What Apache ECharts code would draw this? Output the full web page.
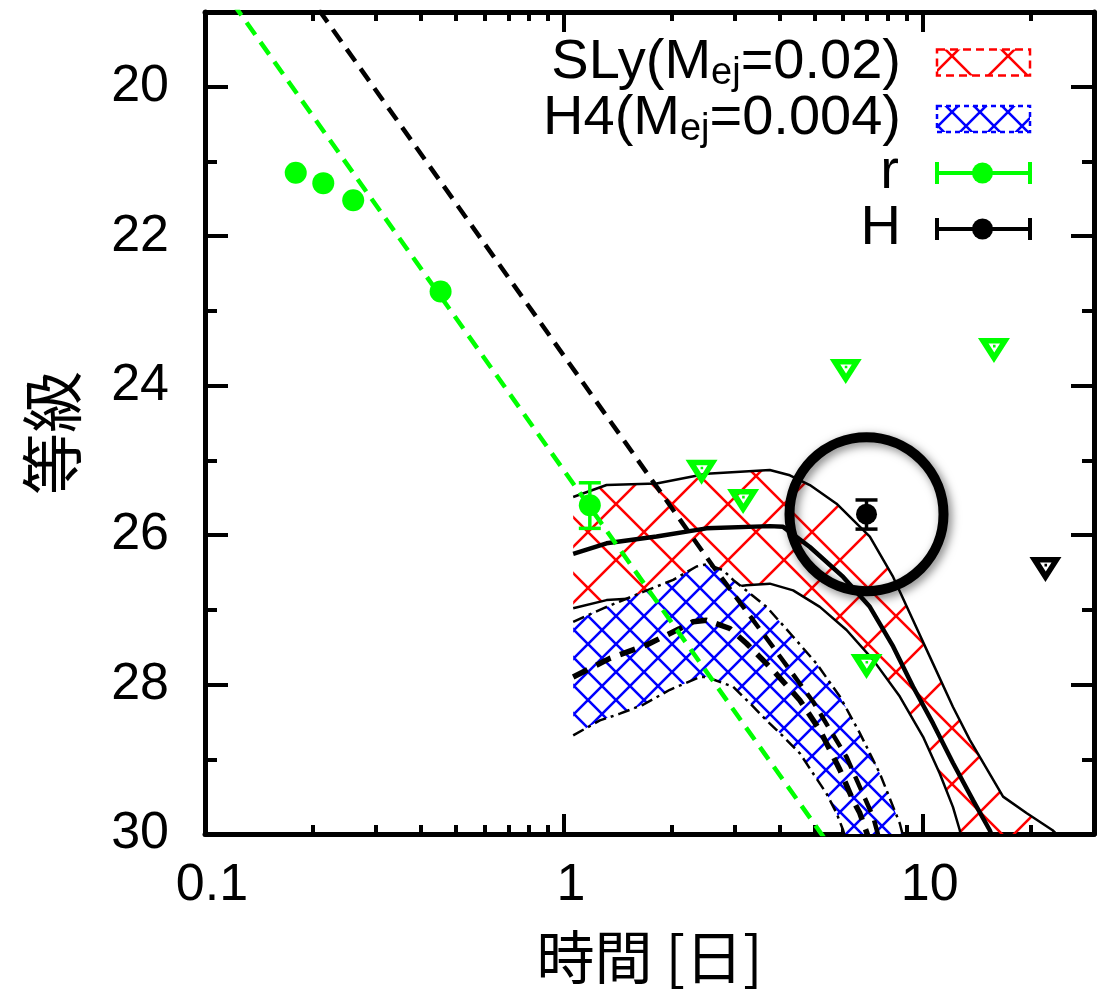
<!DOCTYPE html>
<html>
<head>
<meta charset="utf-8">
<script src="https://cdn.jsdelivr.net/npm/echarts@6/dist/echarts.min.js"></script>
<style>
  html, body { margin: 0; padding: 0; background: #fff; }
  #chart { width: 1116px; height: 998px; }
</style>
</head>
<body>
<div id="chart"></div>
<script>
// ---- light-curve data: [time (days), magnitude] ----
// SLy model band (Mej = 0.02): upper / central / lower curves
const slyUpper = [[1.0615,25.49],[1.315,25.33],[1.812,25.31],[2.497,25.18],[3.748,25.13],[4.262,25.20],[4.846,25.33],[5.751,25.58],[7.12,26.02],[8.268,26.56],[9.397,27.14],[10.68,27.72],[12.14,28.30],[13.52,28.74],[16.74,29.50],[19.45,29.72],[23.0,29.95],[26.0,30.2]];
const slyMid = [[1.0615,26.25],[1.315,26.11],[1.812,26.02],[2.497,25.91],[3.748,25.88],[4.082,25.89],[4.846,26.16],[6.0,26.56],[7.12,26.96],[8.268,27.49],[9.397,28.03],[10.68,28.52],[12.14,29.05],[13.81,29.55],[15.37,29.95],[16.0,30.15]];
const slyLower = [[1.0615,26.98],[1.315,26.87],[1.812,26.83],[2.497,26.74],[3.228,26.67],[3.748,26.65],[4.353,26.74],[5.166,26.96],[6.132,27.27],[7.272,27.67],[8.631,28.16],[10.02,28.70],[11.15,29.19],[12.14,29.64],[12.68,29.95],[13.0,30.2]];
// H4 model band (Mej = 0.004)
const h4Upper = [[1.0615,27.16],[1.287,26.98],[1.663,26.76],[2.016,26.60],[2.342,26.42],[2.497,26.39],[2.778,26.47],[2.962,26.60],[3.67,26.96],[4.353,27.36],[5.058,27.72],[5.874,28.16],[6.677,28.65],[7.592,29.19],[8.631,29.86],[9.0,30.2]];
const h4Mid = [[1.0615,27.90],[1.343,27.65],[1.70,27.47],[2.105,27.25],[2.292,27.16],[2.497,27.14],[2.90,27.25],[3.228,27.45],[3.829,27.81],[4.544,28.21],[5.166,28.61],[5.874,29.14],[6.393,29.55],[6.677,29.72],[7.12,30.1]];
const h4Lower = [[1.0615,28.68],[1.26,28.48],[1.432,28.39],[1.663,28.27],[1.974,28.07],[2.392,27.90],[2.497,27.90],[2.962,28.03],[3.297,28.25],[3.67,28.48],[3.997,28.65],[4.544,28.92],[4.949,29.19],[5.393,29.46],[5.751,29.72],[6.0,29.95],[6.2,30.2]];
// afterglow power-law decays
const afterglowR = [[0.1,18.355],[6.0,30.41]];
const afterglowH = [[0.19,18.71],[2.606,26.42],[3.829,27.50],[4.949,28.23],[6.132,28.97],[7.272,29.77],[7.8,30.3]];
// observations
const rPoints = [[0.179,21.15],[0.2136,21.29],[0.2588,21.52],[0.4534,22.74]];
const rDetection = [[1.181,25.60]];
const rDetectionErr = [[1.181,25.30,25.91]];
const hDetection = [[6.97,25.72]];
const hDetectionErr = [[6.97,25.53,25.92]];
const rUpperLimits = [[2.419,25.16],[3.158,25.55],[6.10,23.81],[6.97,27.76],[15.79,23.53]];
const hUpperLimits = [[21.97,26.46]];
// axis ticks and labels
const xLabelValues = [0.1, 1, 10];
const xMajorTicks = [1, 10];
const xMinorTicks = [0.2,0.3,0.4,0.5,0.6,0.7,0.8,0.9,2,3,4,5,6,7,8,9,20];
const yMajorTicks = [20, 22, 24, 26, 28, 30];
const yMinorTicks = [21, 23, 25, 27, 29];
const legendLabels = ['SLy', '0.02', 'H4', '0.004', 'r', 'H'];

const FONT = 'Liberation Sans, Arial, Helvetica, sans-serif';
const CJK = '"Noto Sans CJK JP", "Noto Sans CJK SC", sans-serif';
const GREEN = '#00ff00';

// diagonal cross-hatch tile
function hatch(size, color, width, bg) {
  const c = document.createElement('canvas');
  c.width = size; c.height = size;
  const g = c.getContext('2d');
  if (bg) { g.fillStyle = bg; g.fillRect(0, 0, size, size); }
  g.strokeStyle = color; g.lineWidth = width;
  g.beginPath();
  for (let k = -size; k <= size; k += size) {
    g.moveTo(k, 0); g.lineTo(k + size, size);
    g.moveTo(k, size); g.lineTo(k + size, 0);
  }
  g.stroke();
  return c;
}
const redHatch = hatch(56, '#ff0000', 2.6, null);
const blueHatch = hatch(28, '#0000ff', 2.6, '#ffffff');

function bandSeries(name, upper, lower, tile, z) {
  return {
    type: 'custom', name, z, clip: true, silent: true,
    xAxisIndex: 0, yAxisIndex: 0,
    data: [[1, 25]],
    renderItem: (params, api) => {
      const pts = upper.map(p => api.coord(p))
        .concat(lower.slice().reverse().map(p => api.coord(p)));
      return {
        type: 'polygon',
        shape: { points: pts },
        style: { fill: { image: tile, repeat: 'repeat' }, stroke: null }
      };
    }
  };
}

function curve(name, data, width, type, color, z) {
  return {
    type: 'line', name, data, z, showSymbol: false, symbol: 'none',
    xAxisIndex: 0, yAxisIndex: 0, clip: true, silent: true,
    lineStyle: { color: color || '#000', width, type: type || 'solid', cap: 'butt', opacity: 1 }
  };
}

function errorBars(name, data, color, z) {
  return {
    type: 'custom', name, z, data, clip: true, silent: true,
    xAxisIndex: 0, yAxisIndex: 0,
    encode: { x: 0, y: [1, 2] },
    renderItem: (params, api) => {
      const lo = api.coord([api.value(0), api.value(1)]);
      const hi = api.coord([api.value(0), api.value(2)]);
      const hw = 11, st = { stroke: color, lineWidth: 3.5 };
      return {
        type: 'group', children: [
          { type: 'line', shape: { x1: lo[0], y1: lo[1], x2: hi[0], y2: hi[1] }, style: st },
          { type: 'line', shape: { x1: lo[0] - hw, y1: lo[1], x2: lo[0] + hw, y2: lo[1] }, style: st },
          { type: 'line', shape: { x1: hi[0] - hw, y1: hi[1], x2: hi[0] + hw, y2: hi[1] }, style: st }
        ]
      };
    }
  };
}

function points(name, data, symbol, size, color, z) {
  return {
    type: 'scatter', name, data, z, silent: true,
    symbol, symbolSize: size, itemStyle: { color, opacity: 1 }
  };
}

// downward open triangle with a dot inside (upper-limit marker)
const TRI = 'path://M0,0L100,0L50,77Z M33,17L51,45L69,17Z M47,21L55,21L55,29L47,29Z';

function xAxisDef(pos, ticks, len, withLine, withLabels) {
  return {
    type: 'log', logBase: 10, min: 0.1, max: 30, position: pos,
    axisLine: { show: withLine, onZero: false, lineStyle: { color: '#000', width: 5 } },
    axisTick: { show: true, inside: true, length: len, customValues: ticks, lineStyle: { color: '#000', width: 4 } },
    minorTick: { show: false }, splitLine: { show: false },
    axisLabel: withLabels ? {
      show: true, customValues: xLabelValues, fontSize: 52, fontFamily: FONT, color: '#000', margin: 26,
      padding: [0, 0, 0, 14],
      formatter: v => String(+(+v).toPrecision(3))
    } : { show: false }
  };
}
function yAxisDef(pos, ticks, len, withLine, withLabels) {
  return {
    type: 'value', inverse: true, min: 19, max: 30, position: pos,
    axisLine: { show: withLine, onZero: false, lineStyle: { color: '#000', width: 5 } },
    axisTick: { show: true, inside: true, length: len, customValues: ticks, lineStyle: { color: '#000', width: 4 } },
    minorTick: { show: false }, splitLine: { show: false },
    axisLabel: withLabels ? {
      show: true, customValues: yMajorTicks, fontSize: 52, fontFamily: FONT, color: '#000', margin: 36
    } : { show: false }
  };
}

const xMain = xAxisDef('bottom', xMajorTicks, 20, true, true);
xMain.name = '時間 [日]';
xMain.nameLocation = 'middle';
xMain.nameGap = 94;
xMain.nameTextStyle = { fontSize: 58, fontFamily: CJK, color: '#000' };
const yMain = yAxisDef('left', yMajorTicks, 23, true, true);
yMain.name = '等級';
yMain.nameLocation = 'middle';
yMain.nameRotate = 90;
yMain.nameGap = 122;
yMain.nameTextStyle = { fontSize: 62, fontFamily: CJK, color: '#000', padding: [0, 20, 0, 0] };

const mainText = { fontSize: 56, fontFamily: FONT, fill: '#000', lineHeight: 60 };
const subText = { fontSize: 38, fontFamily: FONT, fill: '#000', lineHeight: 22, verticalAlign: 'bottom' };
const legendX = 901, swL = 937, swR = 1030, rows = [62.5, 119, 173, 229];

function keyMarker(y, color) {
  const st = { stroke: color, lineWidth: 4 };
  return [
    { type: 'line', shape: { x1: swL, y1: y, x2: swR, y2: y }, style: st, z: 100 },
    { type: 'line', shape: { x1: swL, y1: y - 11, x2: swL, y2: y + 11 }, style: st, z: 100 },
    { type: 'line', shape: { x1: swR, y1: y - 11, x2: swR, y2: y + 11 }, style: st, z: 100 },
    { type: 'circle', shape: { cx: (swL + swR) / 2 - 1, cy: y, r: 10.5 }, style: { fill: color }, z: 100 }
  ];
}

const option = {
  animation: false,
  backgroundColor: '#fff',
  grid: { left: 205, top: 12, width: 889, height: 822, containLabel: false, outerBoundsMode: 'none' },
  xAxis: [
    xMain,
    xAxisDef('top', xMajorTicks, 20, true, false),
    xAxisDef('bottom', xMinorTicks, 9, false, false),
    xAxisDef('top', xMinorTicks, 9, false, false)
  ],
  yAxis: [
    yMain,
    yAxisDef('right', yMajorTicks, 23, true, false),
    yAxisDef('left', yMinorTicks, 12, false, false),
    yAxisDef('right', yMinorTicks, 12, false, false)
  ],
  series: [
    bandSeries('SLy band', slyUpper, slyLower, redHatch, 2),
    curve('SLy upper', slyUpper, 2.5, 'solid', '#000', 3),
    curve('SLy', slyMid, 4.5, 'solid', '#000', 3),
    curve('SLy lower', slyLower, 2.5, 'solid', '#000', 3),
    bandSeries('H4 band', h4Upper, h4Lower, blueHatch, 4),
    curve('H4 upper', h4Upper, 2.5, [12, 5, 3, 5], '#000', 5),
    curve('H4', h4Mid, 5.5, [16, 10], '#000', 5),
    curve('H4 lower', h4Lower, 2.5, [12, 5, 3, 5], '#000', 5),
    curve('r afterglow', afterglowR, 4.5, [15, 9], GREEN, 6),
    curve('H afterglow', afterglowH, 4.5, [15, 9], '#000', 6),
    points('r', rPoints.concat(rDetection), 'circle', 22, GREEN, 7),
    errorBars('r err', rDetectionErr, GREEN, 7),
    errorBars('H err', hDetectionErr, '#000', 7),
    points('H', hDetection, 'circle', 21, '#000', 7),
    points('r limits', rUpperLimits, TRI, [32, 25], GREEN, 7),
    points('H limits', hUpperLimits, TRI, [32, 25], '#000', 7),
    {
      // ring highlighting the late H-band detection
      type: 'scatter', name: 'highlight', data: hDetection, z: 8, silent: true,
      symbol: 'circle', symbolSize: 154,
      itemStyle: {
        color: 'rgba(0,0,0,0)', borderColor: '#000', borderWidth: 10, opacity: 1,
        shadowBlur: 10, shadowColor: 'rgba(0,0,0,0.5)', shadowOffsetX: 3, shadowOffsetY: 3
      }
    }
  ],
  graphic: [
    {
      type: 'text', x: legendX, y: rows[0], z: 100,
      style: {
        text: '{a|' + legendLabels[0] + '(M}{s|ej}{a|=' + legendLabels[1] + ')}',
        rich: { a: mainText, s: subText }, align: 'right', verticalAlign: 'middle'
      }
    },
    {
      type: 'text', x: legendX, y: rows[1], z: 100,
      style: {
        text: '{a|' + legendLabels[2] + '(M}{s|ej}{a|=' + legendLabels[3] + ')}',
        rich: { a: mainText, s: subText }, align: 'right', verticalAlign: 'middle'
      }
    },
    {
      type: 'text', x: legendX - 2, y: rows[2], z: 100,
      style: { text: legendLabels[4], font: '56px ' + FONT, fill: '#000', align: 'right', verticalAlign: 'middle' }
    },
    {
      type: 'text', x: legendX, y: rows[3], z: 100,
      style: { text: legendLabels[5], font: '56px ' + FONT, fill: '#000', align: 'right', verticalAlign: 'middle' }
    },
    {
      type: 'rect', z: 100, shape: { x: swL, y: rows[0] - 13, width: swR - swL, height: 26 },
      style: { fill: { image: redHatch, repeat: 'repeat' }, stroke: '#ff0000', lineWidth: 2.5, lineDash: [8, 5] }
    },
    {
      type: 'rect', z: 100, shape: { x: swL, y: rows[1] - 13, width: swR - swL, height: 26 },
      style: { fill: { image: blueHatch, repeat: 'repeat' }, stroke: '#0000ff', lineWidth: 2.5, lineDash: [5, 4] }
    }
  ].concat(keyMarker(rows[2], GREEN), keyMarker(rows[3], '#000'))
};

const chart = echarts.init(document.getElementById('chart'), null, { renderer: 'canvas' });
chart.setOption(option);
</script>
</body>
</html>
